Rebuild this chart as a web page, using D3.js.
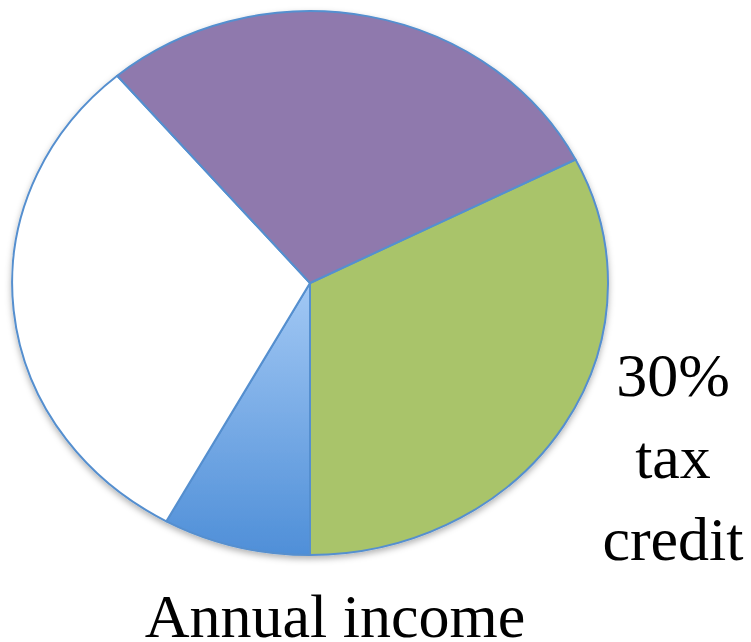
<!DOCTYPE html>
<html>
<head>
<meta charset="utf-8">
<script src="https://cdn.jsdelivr.net/npm/d3@7"></script>
<style>
  html, body { margin: 0; padding: 0; background: #fff; }
  svg { display: block; }
</style>
</head>
<body>
<svg id="chart" width="751" height="642"></svg>
<script>
// slices in clockwise order, starting at the purple/green edge
const categories = ['30% tax credit', 'Annual income', 'Other', 'Rest'];
const values = [32.5, 8.0, 30.8, 28.7];
const fills = ['#a9c46b', 'url(#blueGrad)', '#ffffff', '#8f79ad'];
const rightLabel = ['30%', 'tax', 'credit'];
const bottomLabel = 'Annual income';

const width = 751;
const height = 642;
const cx = 310, cy = 283;
const rx = 298, ry = 272;
const startDeg = 63;

const svg = d3.select('#chart');
const defs = svg.append('defs');

const grad = defs.append('linearGradient')
  .attr('id', 'blueGrad')
  .attr('x1', 0).attr('y1', 0).attr('x2', 0).attr('y2', 1);
grad.append('stop').attr('offset', '0%').attr('stop-color', '#a2c8f4');
grad.append('stop').attr('offset', '100%').attr('stop-color', '#4f8fd8');

defs.append('filter')
  .attr('id', 'shadow')
  .attr('x', '-10%').attr('y', '-10%').attr('width', '120%').attr('height', '120%')
  .append('feDropShadow')
  .attr('dx', 0).attr('dy', 3)
  .attr('stdDeviation', 3)
  .attr('flood-color', '#000')
  .attr('flood-opacity', 0.3);

const pie = d3.pie()
  .sort(null)
  .startAngle(startDeg * Math.PI / 180)
  .endAngle(startDeg * Math.PI / 180 + 2 * Math.PI);

const arc = d3.arc().innerRadius(0).outerRadius(1);

const outer = svg.append('g').attr('filter', 'url(#shadow)');
const g = outer.append('g')
  .attr('transform', `translate(${cx},${cy}) scale(${rx},${ry})`);

g.selectAll('path')
  .data(pie(values))
  .join('path')
  .attr('d', arc)
  .attr('fill', (d, i) => fills[i])
  .attr('stroke', '#558fcf')
  .attr('stroke-width', 2)
  .attr('stroke-linejoin', 'round')
  .attr('vector-effect', 'non-scaling-stroke');

const font = '"Liberation Serif", "Times New Roman", serif';

svg.append('g')
  .selectAll('text')
  .data(rightLabel)
  .join('text')
  .attr('x', 673)
  .attr('y', (d, i) => 396 + i * 82)
  .attr('text-anchor', 'middle')
  .attr('font-family', font)
  .attr('font-size', 62)
  .attr('fill', '#000')
  .text(d => d);

svg.append('text')
  .attr('x', 335)
  .attr('y', 637)
  .attr('text-anchor', 'middle')
  .attr('font-family', font)
  .attr('font-size', 62)
  .attr('fill', '#000')
  .text(bottomLabel);
</script>
</body>
</html>
